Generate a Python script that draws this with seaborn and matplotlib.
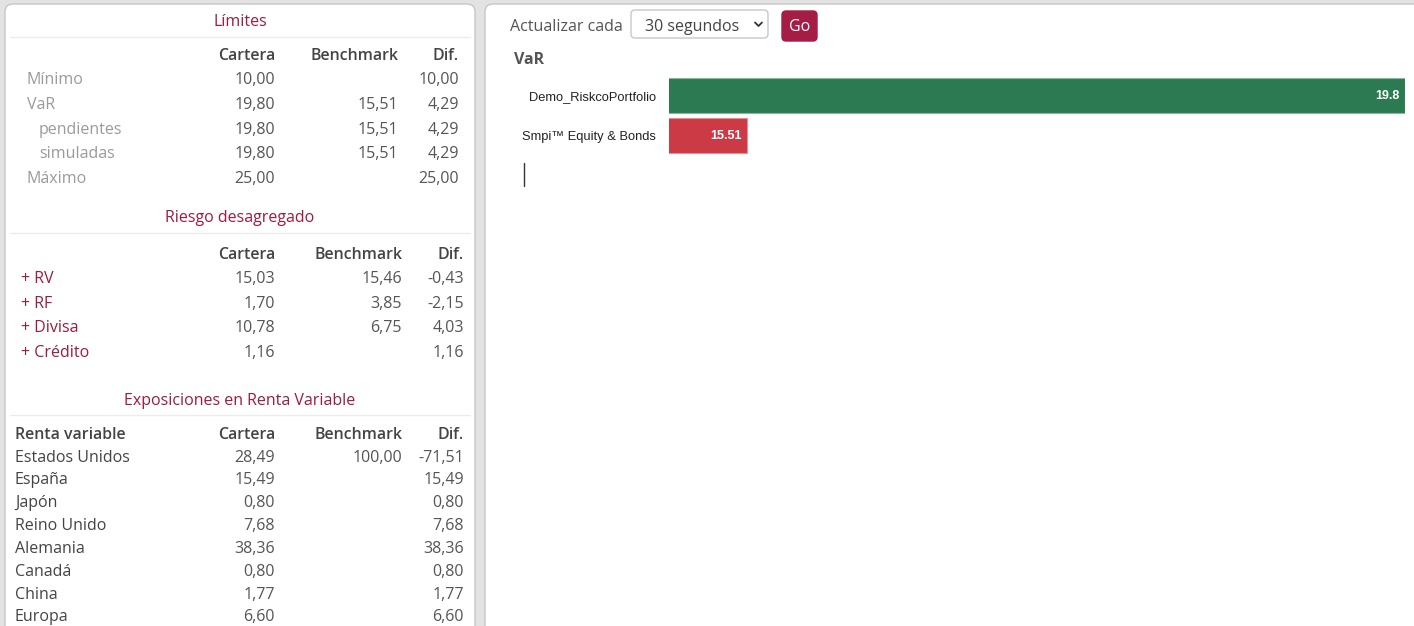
import matplotlib
matplotlib.use("Agg")
import matplotlib.pyplot as plt
from matplotlib.patches import FancyBboxPatch
import seaborn as sns

# ---- data ----
limit_rows = ["Mínimo", "VaR", "pendientes", "simuladas", "Máximo"]
limit_indent = [0, 0, 1, 1, 0]
limit_cartera = [10.00, 19.80, 19.80, 19.80, 25.00]
limit_bench = [None, 15.51, 15.51, 15.51, None]
limit_dif = [10.00, 4.29, 4.29, 4.29, 25.00]

riesgo_rows = ["+ RV", "+ RF", "+ Divisa", "+ Crédito"]
riesgo_cartera = [15.03, 1.70, 10.78, 1.16]
riesgo_bench = [15.46, 3.85, 6.75, None]
riesgo_dif = [-0.43, -2.15, 4.03, 1.16]

expo_rows = ["Estados Unidos", "España", "Japón", "Reino Unido",
             "Alemania", "Canadá", "China", "Europa"]
expo_cartera = [28.49, 15.49, 0.80, 7.68, 38.36, 0.80, 1.77, 6.60]
expo_bench = [100.00, None, None, None, None, None, None, None]
expo_dif = [-71.51, 15.49, 0.80, 7.68, 38.36, 0.80, 1.77, 6.60]

col_headers = ["Cartera", "Benchmark", "Dif."]

var_names = ["Demo_RiskcoPortfolio", "Smpi™ Equity & Bonds"]
var_values = [19.8, 15.51]
var_floor = 15.0

# ---- style ----
sns.set_theme(style="white")
plt.rcParams["font.family"] = ["Open Sans", "DejaVu Sans"]

W, H = 1414, 626
FS = 11.5          # ~16px
FS_HEAD = 11.4
RED = "#9e1b3b"
NUM = "#555555"
HEAD = "#444444"
ARIAL = ["Liberation Sans", "DejaVu Sans"]


def fmt(v):
    return "" if v is None else f"{v:.2f}".replace(".", ",")


fig = plt.figure(figsize=(W / 100, H / 100), dpi=100)
fig.patch.set_facecolor("#e3e3e3")
bg = fig.add_axes([0, 0, 1, 1])
bg.set_xlim(0, W)
bg.set_ylim(H, 0)
bg.axis("off")

for x0, x1 in [(5, 475), (485, 1430)]:
    bg.add_patch(FancyBboxPatch((x0, 4), x1 - x0, 700,
                                boxstyle="round,pad=0,rounding_size=8",
                                fc="white", ec="#c6c6c6", lw=1))


def section(title, title_y, line_y, head_y, cols_x, first_head=None):
    bg.text(240, title_y, title, color=RED, fontsize=FS, ha="center", va="baseline")
    bg.plot([10, 470], [line_y, line_y], color="#ececec", lw=1)
    if first_head:
        bg.text(15, head_y, first_head, color=HEAD, fontsize=FS_HEAD,
                weight="semibold", va="baseline")
    for h, cx in zip(col_headers, cols_x):
        bg.text(cx, head_y, h, color=HEAD, fontsize=FS_HEAD, weight="semibold",
                ha="right", va="baseline")


def rows(labels, xs, ys, lab_color, cols_x, *cols):
    for i, lab in enumerate(labels):
        bg.text(xs[i], ys[i], lab, color=lab_color, fontsize=FS, va="baseline")
        for cx, col in zip(cols_x, cols):
            bg.text(cx, ys[i], fmt(col[i]), color=NUM, fontsize=FS,
                    ha="right", va="baseline")


# Límites
cols1 = [275, 398, 459]
section("Límites", 26, 37, 60, cols1)
ys1 = [84 + 24.8 * i for i in range(len(limit_rows))]
xs1 = [27 + 12 * k for k in limit_indent]
rows(limit_rows, xs1, ys1, "#9a9a9a", cols1, limit_cartera, limit_bench, limit_dif)

# Riesgo desagregado
cols2 = [275, 402, 464]
section("Riesgo desagregado", 222, 233, 259, cols2)
ys2 = [283 + 24.7 * i for i in range(len(riesgo_rows))]
rows(riesgo_rows, [21] * len(riesgo_rows), ys2, RED, cols2,
     riesgo_cartera, riesgo_bench, riesgo_dif)

# Exposiciones
section("Exposiciones en Renta Variable", 405, 415, 439, cols2, "Renta variable")
ys3 = [461.5 + 22.85 * i for i in range(len(expo_rows))]
rows(expo_rows, [15] * len(expo_rows), ys3, "#444444", cols2,
     expo_cartera, expo_bench, expo_dif)

# ---- right panel controls ----
bg.text(510, 31, "Actualizar cada", color=NUM, fontsize=FS, va="baseline")
bg.add_patch(FancyBboxPatch((631, 10), 137, 28,
                            boxstyle="round,pad=0,rounding_size=4",
                            fc="white", ec="#c8c8c8", lw=1))
bg.text(645, 31, "30 segundos", color="#444444", fontsize=FS, va="baseline")
bg.plot([755, 758.5, 762], [22.5, 26, 22.5], color="#333333", lw=1.3)
bg.add_patch(FancyBboxPatch((782, 11), 35, 30,
                            boxstyle="round,pad=0,rounding_size=4",
                            fc="#a51c45", ec="#a51c45", lw=1))
bg.text(799.5, 31, "Go", color="white", fontsize=FS, ha="center", va="baseline")
bg.text(514, 64, "VaR", color=NUM, fontsize=FS, weight="bold", va="baseline")
bg.plot([523.5, 523.5], [163, 186], color="#333333", lw=1)

# ---- VaR bar chart ----
ax = fig.add_axes([669 / W, 1 - 155.5 / H, (1405 - 669) / W, 80 / H])
ax.set_facecolor("none")
bar_colors = ["#2c7a51", "#cc3a46"]
edge_colors = ["#8db5a2", "#e48d94"]
sns.barplot(x=var_values, y=var_names, hue=var_names, palette=bar_colors,
            orient="h", width=0.875, legend=False, ax=ax, saturation=1)
for p, ec in zip(ax.patches, edge_colors):
    p.set_edgecolor(ec)
    p.set_linewidth(0.8)
ax.set_xlim(var_floor, max(var_values))
ax.set_ylim(1.5, -0.5)
ax.set_xticks([])
sns.despine(ax=ax, left=True, bottom=True)
ax.tick_params(axis="y", length=0, pad=9.5)
for lab in ax.get_yticklabels():
    lab.set_fontfamily(ARIAL)
    lab.set_fontsize(9.3)
    lab.set_color("#222222")
for i, v in enumerate(var_values):
    ax.annotate(f"{v:g}", (v, i), xytext=(-3.6, -0.5), textcoords="offset points",
                ha="right", va="center", color="white", fontsize=9.0,
                family=ARIAL, weight="bold")

fig.savefig("out.png", dpi=100, facecolor=fig.get_facecolor())
